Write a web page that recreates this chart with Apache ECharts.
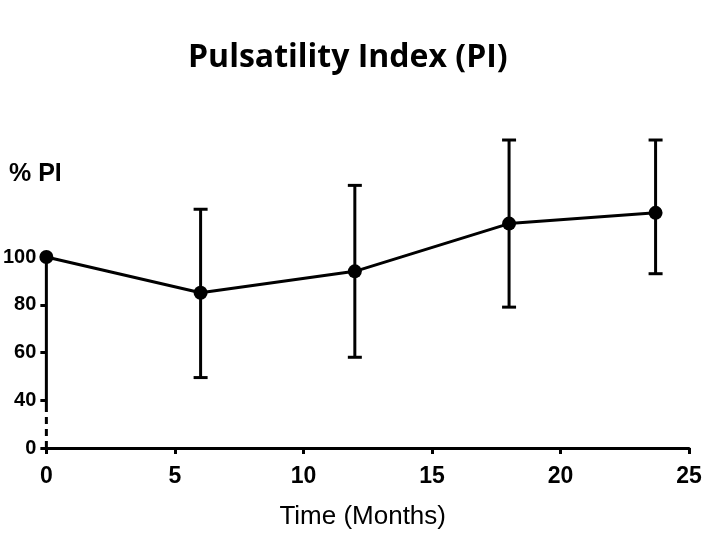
<!DOCTYPE html>
<html>
<head>
<meta charset="utf-8">
<script src="https://cdn.jsdelivr.net/npm/echarts@6.0.0/dist/echarts.min.js"></script>
<style>html,body{margin:0;padding:0;background:#fff}#c{width:708px;height:533px}</style>
</head>
<body>
<div id="c"></div>
<script>
// Data
const months   = [0, 6, 12, 18, 23.7];
const meanPI   = [100, 85, 94, 114, 118.5];
const lowerPI  = [null, 49.5, 58, 79, 93];
const upperPI  = [null, 120, 130, 149, 149];
const xTicks   = [0, 5, 10, 15, 20, 25];
const yTicks   = [0, 40, 60, 80, 100];
const ySolidSpan  = [37, 100];
const yDashedSpan = [0, 37];

const lineData = months.map((m, i) => [m, meanPI[i]]);
const errData = [];
months.forEach((m, i) => { if (lowerPI[i] != null) errData.push([m, lowerPI[i], upperPI[i]]); });

const chart = echarts.init(document.getElementById('c'), null, {renderer: 'canvas'});
chart.setOption({
  animation: false,
  backgroundColor: '#fff',
  title: [
    {text: 'Pulsatility Index (PI)', left: 183, top: 37,
     textStyle: {fontFamily: 'Open Sans', fontWeight: 'bold', fontSize: 32, color: '#000'}},
    {text: '% PI', left: 4, top: 157,
     textStyle: {fontFamily: 'Liberation Sans', fontWeight: 'bold', fontSize: 25, color: '#000'}}
  ],
  grid: {left: 46, right: 19, top: 257, bottom: 85, containLabel: false},
  xAxis: {
    type: 'value', min: 0, max: 25, interval: 5,
    name: 'Time (Months)', nameLocation: 'middle', nameGap: 56,
    nameTextStyle: {fontFamily: 'Liberation Sans', fontSize: 26, color: '#000', padding: [0, 10, 0, 0]},
    axisLine: {show: true, lineStyle: {color: '#000', width: 3}},
    axisTick: {show: true, length: 6, lineStyle: {color: '#000', width: 3}, customValues: xTicks},
    axisLabel: {fontFamily: 'Liberation Sans', fontWeight: 'bold', fontSize: 23, color: '#000', margin: 17, customValues: xTicks},
    splitLine: {show: false}
  },
  yAxis: {
    type: 'value', min: 0, max: 100, interval: 20,
    breaks: [{start: 2, end: 38, gap: 16}],
    breakArea: {show: false},
    axisLine: {show: false},
    axisTick: {show: true, length: 6, lineStyle: {color: '#000', width: 3}, customValues: yTicks},
    axisLabel: {fontFamily: 'Liberation Sans', fontWeight: 'bold', fontSize: 20, color: '#000', margin: 10, customValues: yTicks},
    splitLine: {show: false}
  },
  series: [
    {
      type: 'line', data: [[0, ySolidSpan[0]], [0, ySolidSpan[1]]], symbol: 'none', silent: true,
      lineStyle: {color: '#000', width: 3}, z: 1
    },
    {
      type: 'line', data: [[0, yDashedSpan[0]], [0, yDashedSpan[1]]], symbol: 'none', silent: true,
      lineStyle: {color: '#000', width: 3, type: [7, 5]}, z: 1
    },
    {
      type: 'custom', data: errData, clip: false, z: 2,
      encode: {x: 0, y: [1, 2]},
      renderItem: function (params, api) {
        const x = api.value(0);
        const lo = api.coord([x, api.value(1)]);
        const hi = api.coord([x, api.value(2)]);
        const hw = 7;
        const st = {stroke: '#000', lineWidth: 3};
        return {type: 'group', children: [
          {type: 'line', shape: {x1: lo[0], y1: lo[1], x2: hi[0], y2: hi[1]}, style: st},
          {type: 'line', shape: {x1: lo[0] - hw, y1: lo[1], x2: lo[0] + hw, y2: lo[1]}, style: st},
          {type: 'line', shape: {x1: hi[0] - hw, y1: hi[1], x2: hi[0] + hw, y2: hi[1]}, style: st}
        ]};
      }
    },
    {
      type: 'line', data: lineData, clip: false, z: 3,
      symbol: 'circle', symbolSize: 14,
      itemStyle: {color: '#000'},
      lineStyle: {color: '#000', width: 3}
    }
  ]
});
</script>
</body>
</html>
